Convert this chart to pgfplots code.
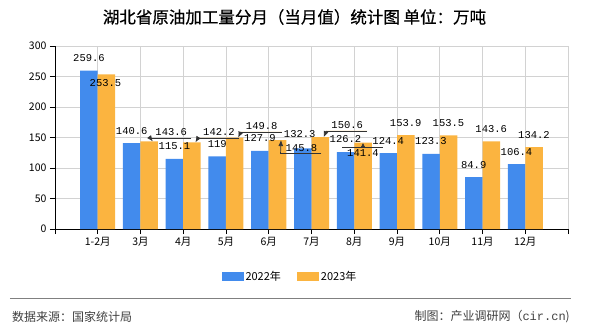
\documentclass[border=0pt]{standalone}
\usepackage{pgfplots}
\pgfplotsset{compat=1.18}
\usepackage{pgfplotstable}
\usepackage{fontspec}
\setmainfont{Noto Sans CJK SC}
\newfontfamily\titlefont[FakeBold=0.6]{Noto Sans CJK SC}
\newfontfamily\monofont{Liberation Mono}
\usetikzlibrary{arrows.meta}
\definecolor{cblue}{RGB}{66,139,237}
\definecolor{corange}{RGB}{251,180,64}
\definecolor{gridc}{RGB}{210,210,210}

\pgfplotstableread{
x y dx dy lk
1 259.6 0 12.5 0
2 140.6 0 12.5 0
3 115.1 0 12.5 0
4 119 0 12.5 0
5 127.9 0 12.5 0
6 132.3 -3 14 0
7 126.2 0 12.5 0
8 124.4 0 12.5 0
9 123.3 0 12.5 0
10 84.9 0 12.5 0
11 106.4 0 12.5 0
}\tA
\pgfplotstableread{
x y dx dy lk
1 253.5 -1 -8.5 0
2 143.6 22 9 1
3 142.2 27 10 1
4 149.8 27 11.5 1
5 145.8 24 -8 1
6 150.6 27 12 1
7 141.4 0 -10 2
8 153.9 0 12.5 0
9 153.5 0 12.5 0
10 143.6 0 12.5 0
11 134.2 0 12.5 0
}\tB

\tikzset{
 ldr/.style={draw=black!80, line width=0.7pt},
 laba/.style={append after command={
   ([xshift=2pt]\tikzlastnode.south east) edge[ldr] ([xshift=-3pt]\tikzlastnode.south west)
   ([xshift=-3pt]\tikzlastnode.south west) edge[ldr,-{Latex[length=6pt,width=5pt]}] ([shift={({(3.5-\dx)*1pt},{-(\dy)*1pt})}]\tikzlastnode.center)
 }},
 labc/.style={append after command={
   ([xshift=-3pt]\tikzlastnode.north west) edge[ldr] ([xshift=2pt]\tikzlastnode.north east)
   (\tikzlastnode.north) edge[ldr,-{Latex[length=5pt,width=5pt]}] ([shift={(0pt,{-(\dy)*1pt})}]\tikzlastnode.center)
 }},
}

\begin{document}
\begin{tikzpicture}
\useasboundingbox (-55pt,-101pt) rectangle (535pt,229pt);
\begin{axis}[
  at={(0pt,0pt)}, anchor=south west,
  scale only axis, width=513pt, height=183pt,
  xmin=0, xmax=12, ymin=0, ymax=300,
  axis x line*=bottom, axis y line*=left,
  axis line style={black, line width=0.8pt},
  xtick={0,...,12},
  xticklabels={,1-2月,3月,4月,5月,6月,7月,8月,9月,10月,11月,12月,},
  ytick={0,50,...,300},
  tick align=outside, major tick length=5pt,
  tick style={black, line width=0.8pt},
  grid=major, major grid style={gridc, line width=0.8pt},
  ticklabel style={font=\fontsize{10.5}{12}\selectfont},
  /pgf/number format/assume math mode=true,
  ybar=0pt, bar width=17.5pt,
  legend style={at={(0.458,-0.262)}, anchor=center, draw=none, fill=none,
    legend columns=-1, font=\fontsize{11}{12}\selectfont,
    /tikz/every even column/.append style={column sep=14pt}},
  legend image code/.code={\fill[#1] (0pt,-4.5pt) rectangle (22pt,4.5pt);},
  nodes near coords,
  visualization depends on={\thisrow{dx} \as \dx},
  visualization depends on={\thisrow{dy} \as \dy},
  visualization depends on={\thisrow{lk} \as \lk},
  every node near coord/.append style={font=\monofont\fontsize{10.5}{11}\selectfont,
    anchor=center, inner sep=2pt, xshift=\dx pt, yshift=\dy pt, text=black,
    /utils/exec={\ifdim\lk pt=1pt \pgfkeysalso{/tikz/laba}\fi\ifdim\lk pt=2pt \pgfkeysalso{/tikz/labc}\fi}},
]
\addplot[fill=cblue, draw=none] table[x=x, y=y] {\tA};
\addlegendentry{2022年}
\addplot[fill=corange, draw=none] table[x=x, y=y] {\tB};
\addlegendentry{2023年}
\end{axis}
\node[font=\titlefont\fontsize{16.5}{18}\selectfont] at (239.5pt,212pt) {湖北省原油加工量分月（当月值）统计图 单位：万吨};
\draw[gray, line width=0.9pt] (-45pt,-69pt) -- (516pt,-69pt);
\node[anchor=west, text=black!75, font=\fontsize{12}{14}\selectfont, inner sep=0pt] at (-43pt,-88pt) {数据来源：国家统计局};
\node[anchor=east, text=black!75, font=\fontsize{12}{14}\selectfont, inner sep=0pt] at (515pt,-88pt) {制图：产业调研网（{\monofont cir.cn})};
\end{tikzpicture}
\end{document}
